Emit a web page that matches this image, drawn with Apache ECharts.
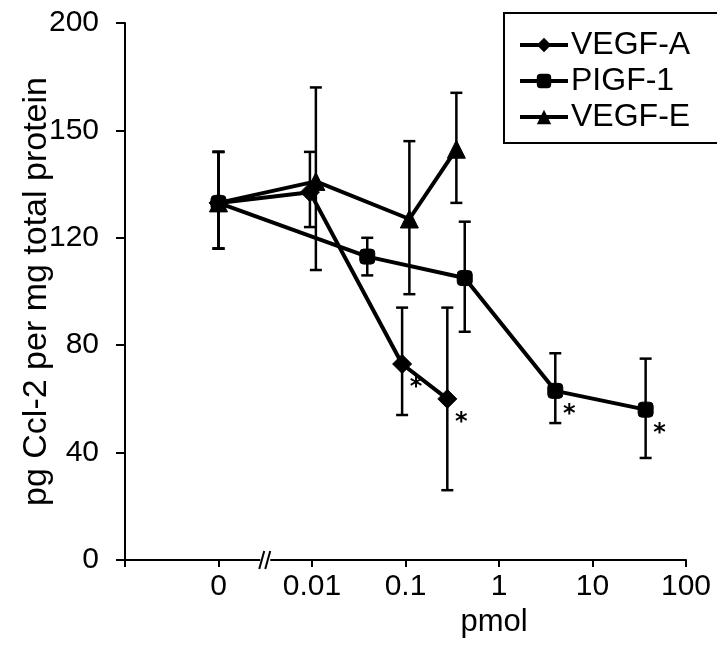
<!DOCTYPE html>
<html>
<head>
<meta charset="utf-8">
<script src="https://cdn.jsdelivr.net/npm/echarts@6/dist/echarts.min.js"></script>
<style>html,body{margin:0;padding:0;background:#fff;}#c{width:717px;height:670px;}</style>
</head>
<body>
<div id="c"></div>
<script>
// ---- data (pmol dose, pg Ccl-2 per mg total protein) ----
const xTickValues = [0, 0.01, 0.1, 1, 10, 100];
const xTickLabels = ['0', '0.01', '0.1', '1', '10', '100'];
const yTickLabels = {0: '0', 40: '40', 80: '80', 120: '120', 160: '150', 200: '200'};

const vegfA_x  = [0, 0.0095, 0.092, 0.28];
const vegfA_y  = [133, 137, 73, 60];
const vegfA_lo = [116, 124, 54, 26];
const vegfA_hi = [152, 152, 94, 94];
const vegfA_sig = [0, 0, 1, 1];

const plgf_x  = [0, 0.039, 0.43, 4, 37];
const plgf_y  = [133, 113, 105, 63, 56];
const plgf_lo = [116, 106, 85, 51, 38];
const plgf_hi = [152, 120, 126, 77, 75];
const plgf_sig = [0, 0, 0, 1, 1];

const vegfE_x  = [0, 0.011, 0.11, 0.35];
const vegfE_y  = [133, 141, 127, 153];
const vegfE_lo = [116, 108, 99, 133];
const vegfE_hi = [152, 176, 156, 174];
const vegfE_sig = [0, 0, 0, 0];

// ---- axis transform: 0 placed one decade left of 0.01, with a break ----
function tx(p) { return p === 0 ? -1 : Math.log10(p) + 2; }
const labelMap = {};
xTickValues.forEach((v, i) => { labelMap[tx(v)] = xTickLabels[i]; });

const FONT = '"Liberation Sans", Arial, sans-serif';

function lineData(xs, ys, sig) {
  return xs.map((x, i) => ({
    value: [tx(x), ys[i]],
    label: sig[i] ? {show: true, formatter: '*', position: 'inside', offset: [14, 24],
      fontSize: 24, fontWeight: 'bold', color: '#000', fontFamily: 'DejaVu Sans'} : {show: false}
  }));
}
function errData(xs, lo, hi) {
  return xs.map((x, i) => [tx(x), lo[i], hi[i]]);
}
function errRender(params, api) {
  const x = api.value(0);
  const lo = api.coord([x, api.value(1)]);
  const hi = api.coord([x, api.value(2)]);
  const w = 6;
  const st = {stroke: '#000', lineWidth: 2.5};
  return {type: 'group', children: [
    {type: 'line', shape: {x1: lo[0], y1: lo[1], x2: hi[0], y2: hi[1]}, style: st},
    {type: 'line', shape: {x1: lo[0] - w, y1: lo[1], x2: lo[0] + w, y2: lo[1]}, style: st},
    {type: 'line', shape: {x1: hi[0] - w, y1: hi[1], x2: hi[0] + w, y2: hi[1]}, style: st}
  ]};
}
function errSeries(xs, lo, hi) {
  return {type: 'custom', renderItem: errRender, data: errData(xs, lo, hi),
    encode: {x: 0, y: [1, 2]}, silent: true, z: 1, clip: false};
}
function lineSeries(name, symbol, size, xs, ys, sig) {
  return {name: name, type: 'line', symbol: symbol, symbolSize: size,
    data: lineData(xs, ys, sig), lineStyle: {color: '#000', width: 4},
    itemStyle: {color: '#000', borderColor: '#000'}, z: 3, animation: false};
}

const chart = echarts.init(document.getElementById('c'), null, {renderer: 'canvas'});
chart.setOption({
  animation: false,
  backgroundColor: '#fff',
  grid: {left: 125, right: 31, top: 23, bottom: 110, containLabel: false, outerBoundsMode: 'none'},
  xAxis: {
    type: 'value', min: -2, max: 4, interval: 1,
    axisLine: {onZero: false, lineStyle: {color: '#000', width: 2}},
    axisTick: {show: true, length: 7, lineStyle: {color: '#000', width: 2}},
    axisLabel: {color: '#000', fontSize: 30, fontFamily: FONT, margin: 12, hideOverlap: false,
      formatter: v => (labelMap[v] !== undefined ? labelMap[v] : '')},
    splitLine: {show: false}
  },
  yAxis: {
    type: 'value', min: 0, max: 200, interval: 40,
    name: 'pg Ccl-2 per mg total protein', nameLocation: 'middle', nameRotate: 90, nameGap: 71,
    nameMoveOverlap: false,
    nameTextStyle: {color: '#000', fontSize: 34, fontFamily: FONT},
    axisLine: {show: true, onZero: false, lineStyle: {color: '#000', width: 2}},
    axisTick: {show: true, length: 9, lineStyle: {color: '#000', width: 2}},
    axisLabel: {color: '#000', fontSize: 30, fontFamily: FONT, margin: 26,
      formatter: v => yTickLabels[v] !== undefined ? yTickLabels[v] : ''},
    splitLine: {show: false}
  },
  legend: {
    left: 504, top: 13, orient: 'vertical',
    data: ['VEGF-A', 'PIGF-1', 'VEGF-E'],
    borderColor: '#000', borderWidth: 2, padding: [16, 40, 10, 14],
    itemWidth: 48, itemHeight: 18, itemGap: 4,
    lineStyle: {width: 4, color: '#000'},
    textStyle: {color: '#000', fontSize: 32, fontFamily: FONT, padding: [0, 0, 0, -2]}
  },
  graphic: [
    {type: 'text', x: 494, y: 622, style: {text: 'pmol', fill: '#000', fontSize: 31,
      fontFamily: FONT, textAlign: 'center', textVerticalAlign: 'middle'}}
  ],
  series: [
    errSeries(vegfA_x, vegfA_lo, vegfA_hi),
    errSeries(plgf_x, plgf_lo, plgf_hi),
    errSeries(vegfE_x, vegfE_lo, vegfE_hi),
    lineSeries('VEGF-A', 'diamond', 19, vegfA_x, vegfA_y, vegfA_sig),
    lineSeries('PIGF-1', 'roundRect', 15, plgf_x, plgf_y, plgf_sig),
    lineSeries('VEGF-E', 'triangle', 18, vegfE_x, vegfE_y, vegfE_sig),
    {
      type: 'custom', data: [[-0.5, 0]], silent: true, z: 5, clip: false,
      renderItem: function (params, api) {
        const p = api.coord([api.value(0), api.value(1)]);
        return {type: 'group', children: [
          {type: 'rect', shape: {x: p[0] - 5, y: p[1] - 3, width: 10, height: 6}, style: {fill: '#fff'}},
          {type: 'line', shape: {x1: p[0] - 6, y1: p[1] + 9, x2: p[0] - 1, y2: p[1] - 9}, style: {stroke: '#000', lineWidth: 2}},
          {type: 'line', shape: {x1: p[0], y1: p[1] + 9, x2: p[0] + 5, y2: p[1] - 9}, style: {stroke: '#000', lineWidth: 2}}
        ]};
      }
    }
  ]
});
</script>
</body>
</html>
